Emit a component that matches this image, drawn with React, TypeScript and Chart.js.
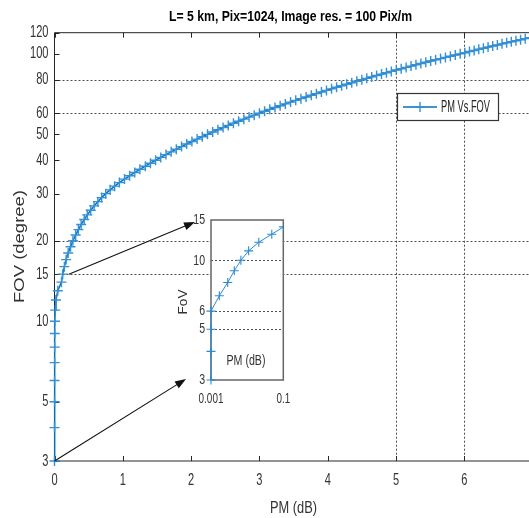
import React, { useEffect, useRef } from "react";
import { Chart, registerables } from "chart.js";
Chart.register(...registerables);

// ---------- data ----------
const FOV = [
  3, 4, 5, 6, 7, 8, 9, 10, 11, 12, 13, 14, 15, 16, 17, 18, 19, 20, 21, 22, 23, 24, 25, 26, 27, 28, 29, 30,
  31, 32, 33, 34, 35, 36, 37, 38, 39, 40, 41, 42, 43, 44, 45, 46, 47, 48, 49, 50, 51, 52, 53, 54, 55, 56,
  57, 58, 59, 60, 61, 62, 63, 64, 65, 66, 67, 68, 69, 70, 71, 72, 73, 74, 75, 76, 77, 78, 79, 80, 81, 82,
  83, 84, 85, 86, 87, 88, 89, 90, 91, 92, 93, 94, 95, 96, 97, 98, 99, 100, 101, 102, 103, 104, 105, 106,
  107, 108, 109, 110, 111, 112, 113, 114, 115,
];
const PM = [
  0, 0.0003, 0.0006, 0.001, 0.0017, 0.0029, 0.0044, 0.0067, 0.011, 0.021,
  0.048, 0.102, 0.12, 0.145, 0.17, 0.2, 0.235, 0.27, 0.31, 0.35,
  0.39, 0.435, 0.48, 0.53, 0.58, 0.635, 0.69, 0.75, 0.815, 0.88,
  0.95, 1.025, 1.1, 1.175, 1.25, 1.33, 1.405, 1.48, 1.556, 1.632,
  1.708, 1.784, 1.86, 1.936, 2.012, 2.088, 2.164, 2.24, 2.316, 2.392,
  2.468, 2.544, 2.62, 2.696, 2.772, 2.848, 2.924, 3.0, 3.076, 3.152,
  3.228, 3.304, 3.38, 3.456, 3.532, 3.608, 3.684, 3.76, 3.834, 3.908,
  3.982, 4.056, 4.13, 4.204, 4.278, 4.352, 4.426, 4.5, 4.572, 4.644,
  4.716, 4.788, 4.86, 4.932, 5.004, 5.076, 5.148, 5.22, 5.292, 5.364,
  5.436, 5.508, 5.58, 5.652, 5.724, 5.796, 5.868, 5.94, 6.008, 6.076,
  6.144, 6.212, 6.28, 6.348, 6.416, 6.484, 6.552, 6.62, 6.688, 6.756,
  6.824, 6.892, 6.96,
];
const Y_TICKS = [3, 5, 10, 15, 20, 30, 40, 50, 60, 80, 100, 120];
const X_TICKS = [0, 1, 2, 3, 4, 5, 6];
const X_TICK_MARKS = [0, 1, 2, 3, 4, 5, 6, 7];
const GRID_Y = [15, 20, 60, 80];
const GRID_X = [5, 6];
const INSET_Y_TICKS = [3, 5, 6, 10, 15];
const INSET_X_TICKS = [0.001, 0.1];
const INSET_GRID_Y = [5, 6, 10];
const INSET_COUNT = 13;
const ARROW_TAILS = [
  [0.21, 15],
  [0, 3],
];
const TITLE = "L= 5 km, Pix=1024, Image res. = 100 Pix/m";
const SERIES = "PM Vs.FOV";
const X_TITLE = "PM (dB)";
const Y_TITLE = "FOV (degree)";
const INSET_X_TITLE = "PM (dB)";
const INSET_Y_TITLE = "FoV";

// ---------- style ----------
const SANS = '"Liberation Sans", Arial, sans-serif';
const BLUE = "#0072BD";
const MARK = "#3590d5";
const TXT = "#333333";
const AXIS = "#262626";

function fitText(
  ctx: CanvasRenderingContext2D,
  text: string,
  cx: number,
  cy: number,
  font: string,
  width: number,
  color: string,
  rot = 0,
  align: CanvasTextAlign = "center"
) {
  ctx.save();
  ctx.font = font;
  const w = ctx.measureText(text).width || 1;
  ctx.translate(cx, cy);
  if (rot) ctx.rotate(rot);
  ctx.scale(width / w, 1);
  ctx.fillStyle = color;
  ctx.textAlign = align;
  ctx.textBaseline = "middle";
  ctx.fillText(text, 0, 0);
  ctx.restore();
}

function squashText(
  ctx: CanvasRenderingContext2D,
  text: string,
  x: number,
  y: number,
  size: number,
  sx: number,
  align: CanvasTextAlign
) {
  ctx.save();
  ctx.font = `${size}px ${SANS}`;
  ctx.translate(x, y);
  ctx.scale(sx, 1);
  ctx.fillStyle = TXT;
  ctx.textAlign = align;
  ctx.textBaseline = "middle";
  ctx.fillText(text, 0, 0);
  ctx.restore();
}

function seg(ctx: CanvasRenderingContext2D, x1: number, y1: number, x2: number, y2: number) {
  ctx.beginPath();
  ctx.moveTo(x1, y1);
  ctx.lineTo(x2, y2);
  ctx.stroke();
}

function arrow(ctx: CanvasRenderingContext2D, x1: number, y1: number, x2: number, y2: number) {
  const a = Math.atan2(y2 - y1, x2 - x1);
  const L = 11;
  const W = 4;
  const c = Math.cos(a);
  const s = Math.sin(a);
  ctx.save();
  ctx.strokeStyle = "#111";
  ctx.fillStyle = "#111";
  ctx.lineWidth = 1.1;
  seg(ctx, x1, y1, x2 - L * 0.8 * c, y2 - L * 0.8 * s);
  const bx = x2 - L * c;
  const by = y2 - L * s;
  ctx.beginPath();
  ctx.moveTo(x2, y2);
  ctx.lineTo(bx - W * s, by + W * c);
  ctx.lineTo(bx + W * s, by - W * c);
  ctx.closePath();
  ctx.fill();
  ctx.restore();
}

const mainPlugin = {
  id: "mainDecor",
  beforeDatasetsDraw(chart: any) {
    const { ctx, chartArea: a, scales } = chart;
    const x = scales.x;
    const y = scales.y;
    ctx.save();
    ctx.strokeStyle = "#4d4d4d";
    ctx.lineWidth = 1;
    ctx.setLineDash([2, 2]);
    GRID_Y.forEach((v) => {
      const py = Math.round(y.getPixelForValue(v)) + 0.5;
      seg(ctx, a.left, py, a.right, py);
    });
    GRID_X.forEach((v) => {
      const px = Math.round(x.getPixelForValue(v)) + 0.5;
      seg(ctx, px, a.top, px, a.bottom);
    });
    ctx.setLineDash([]);
    ctx.strokeStyle = AXIS;
    ctx.lineWidth = 1;
    seg(ctx, a.left, a.top, a.left, a.bottom);
    seg(ctx, a.left, a.bottom, a.right, a.bottom);
    seg(ctx, a.left, a.top, a.right, a.top);
    Y_TICKS.forEach((v) => {
      const py = Math.round(y.getPixelForValue(v)) + 0.5;
      seg(ctx, a.left, py, a.left + 5, py);
    });
    X_TICK_MARKS.forEach((v) => {
      const px = Math.round(x.getPixelForValue(v)) + 0.5;
      seg(ctx, px, a.bottom, px, a.bottom - 5);
      seg(ctx, px, a.top, px, a.top + 5);
    });
    ctx.restore();
    Y_TICKS.forEach((v) => squashText(ctx, String(v), a.left - 6, y.getPixelForValue(v), 16.5, 0.67, "right"));
    X_TICKS.forEach((v) => squashText(ctx, String(v), x.getPixelForValue(v), a.bottom + 19, 16.5, 0.67, "center"));
  },
  afterDraw(chart: any) {
    const { ctx, scales } = chart;
    const x = scales.x;
    const y = scales.y;
    ctx.save();
    ctx.fillStyle = "#fff";
    ctx.fillRect(397.5, 93.5, 101, 27);
    ctx.strokeStyle = "#333";
    ctx.lineWidth = 1.2;
    ctx.strokeRect(397.5, 93.5, 101, 27);
    ctx.strokeStyle = BLUE;
    ctx.lineWidth = 1.5;
    seg(ctx, 403, 107, 437, 107);
    ctx.strokeStyle = MARK;
    ctx.lineWidth = 1.4;
    seg(ctx, 415, 107, 425, 107);
    seg(ctx, 420, 102, 420, 112);
    ctx.restore();
    fitText(ctx, SERIES, 441, 107.5, `16px ${SANS}`, 49, "#222", 0, "left");
    const t1 = ARROW_TAILS[0];
    const t2 = ARROW_TAILS[1];
    arrow(ctx, x.getPixelForValue(t1[0]), y.getPixelForValue(t1[1]), 195, 222);
    arrow(ctx, x.getPixelForValue(t2[0]), y.getPixelForValue(t2[1]), 186, 379);
    fitText(ctx, TITLE, 290.5, 17, `bold 14px ${SANS}`, 243, "#000");
    fitText(ctx, X_TITLE, 293.5, 509, `16px ${SANS}`, 47, TXT);
    fitText(ctx, Y_TITLE, 20, 246.5, `14px ${SANS}`, 113, TXT, -Math.PI / 2);
  },
};

const insetPlugin = {
  id: "insetDecor",
  beforeDatasetsDraw(chart: any) {
    const { ctx, chartArea: a, scales } = chart;
    const x = scales.x;
    const y = scales.y;
    ctx.save();
    ctx.fillStyle = "#fff";
    ctx.fillRect(a.left, a.top, a.right - a.left, a.bottom - a.top);
    ctx.strokeStyle = "#4d4d4d";
    ctx.lineWidth = 1;
    ctx.setLineDash([2, 2]);
    INSET_GRID_Y.forEach((v) => {
      const py = Math.round(y.getPixelForValue(v)) + 0.5;
      seg(ctx, a.left, py, a.right, py);
    });
    ctx.setLineDash([]);
    ctx.strokeStyle = "#666";
    ctx.lineWidth = 1.5;
    ctx.strokeRect(a.left, a.top, a.right - a.left, a.bottom - a.top);
    ctx.restore();
    INSET_Y_TICKS.forEach((v) => squashText(ctx, String(v), a.left - 6, y.getPixelForValue(v), 15.5, 0.68, "right"));
    INSET_X_TICKS.forEach((v) => squashText(ctx, String(v), x.getPixelForValue(v), a.bottom + 19, 15, 0.66, "center"));
  },
  afterDraw(chart: any) {
    const { ctx } = chart;
    fitText(ctx, INSET_Y_TITLE, 18, 97, `13px ${SANS}`, 25, TXT, -Math.PI / 2);
    fitText(ctx, INSET_X_TITLE, 81, 156, `14px ${SANS}`, 39, TXT);
  },
};

const hiddenTicks = { display: false };

export default function App() {
  const mainRef = useRef<HTMLCanvasElement>(null);
  const insetRef = useRef<HTMLCanvasElement>(null);

  useEffect(() => {
    const main = new Chart(mainRef.current as HTMLCanvasElement, {
      type: "line",
      data: {
        datasets: [
          {
            label: SERIES,
            data: FOV.map((f, i) => ({ x: PM[i], y: f })),
            borderColor: BLUE,
            borderWidth: 1.5,
            pointStyle: "cross",
            pointRadius: 5,
            pointBorderColor: MARK,
            pointBorderWidth: 1.4,
            pointBackgroundColor: MARK,
            fill: false,
            tension: 0,
            clip: false as any,
          },
        ],
      },
      options: {
        responsive: false,
        animation: false,
        devicePixelRatio: 1,
        events: [],
        layout: { autoPadding: false, padding: { top: 32.7, right: 1.4, left: 0, bottom: 0 } },
        plugins: { legend: { display: false }, tooltip: { enabled: false }, title: { display: false } },
        scales: {
          x: {
            type: "linear",
            min: 0,
            max: 7,
            afterFit: (s: any) => {
              s.height = 57;
            },
            afterBuildTicks: (s: any) => {
              s.ticks = X_TICKS.map((v) => ({ value: v }));
            },
            grid: { display: false, drawTicks: false },
            border: { display: false },
            ticks: hiddenTicks,
          },
          y: {
            type: "logarithmic",
            min: 3,
            max: 120,
            afterFit: (s: any) => {
              s.width = 54.5;
            },
            afterBuildTicks: (s: any) => {
              s.ticks = Y_TICKS.map((v) => ({ value: v }));
            },
            grid: { display: false, drawTicks: false },
            border: { display: false },
            ticks: hiddenTicks,
          },
        },
      } as any,
      plugins: [mainPlugin],
    });

    const inset = new Chart(insetRef.current as HTMLCanvasElement, {
      type: "line",
      data: {
        datasets: [
          {
            label: SERIES,
            data: FOV.slice(0, INSET_COUNT).map((f, i) => ({ x: Math.max(PM[i], 0.001), y: f })),
            borderColor: "#2d8ad0",
            borderWidth: 1,
            pointStyle: "cross",
            pointRadius: 4.5,
            pointBorderColor: "#2d8ad0",
            pointBorderWidth: 1.1,
            fill: false,
            tension: 0,
            clip: { left: 6, top: 0, right: 0, bottom: 6 } as any,
          },
        ],
      },
      options: {
        responsive: false,
        animation: false,
        devicePixelRatio: 1,
        events: [],
        layout: { autoPadding: false, padding: { top: 15, right: 16.7, left: 0, bottom: 0 } },
        plugins: { legend: { display: false }, tooltip: { enabled: false }, title: { display: false } },
        scales: {
          x: {
            type: "logarithmic",
            min: 0.001,
            max: 0.1,
            afterFit: (s: any) => {
              s.height = 30;
            },
            afterBuildTicks: (s: any) => {
              s.ticks = INSET_X_TICKS.map((v) => ({ value: v }));
            },
            grid: { display: false, drawTicks: false },
            border: { display: false },
            ticks: hiddenTicks,
          },
          y: {
            type: "logarithmic",
            min: 3,
            max: 15,
            afterFit: (s: any) => {
              s.width = 46;
            },
            afterBuildTicks: (s: any) => {
              s.ticks = INSET_Y_TICKS.map((v) => ({ value: v }));
            },
            grid: { display: false, drawTicks: false },
            border: { display: false },
            ticks: hiddenTicks,
          },
        },
      } as any,
      plugins: [insetPlugin],
    });

    return () => {
      main.destroy();
      inset.destroy();
    };
  }, []);

  return (
    <div
      style={{
        position: "fixed",
        left: 0,
        top: 0,
        width: 529,
        height: 518,
        overflow: "hidden",
        background: "#fff",
      }}
    >
      <canvas ref={mainRef} width={534} height={518} style={{ position: "absolute", left: 0, top: 0 }} />
      <canvas ref={insetRef} width={135} height={205} style={{ position: "absolute", left: 165, top: 205 }} />
    </div>
  );
}
